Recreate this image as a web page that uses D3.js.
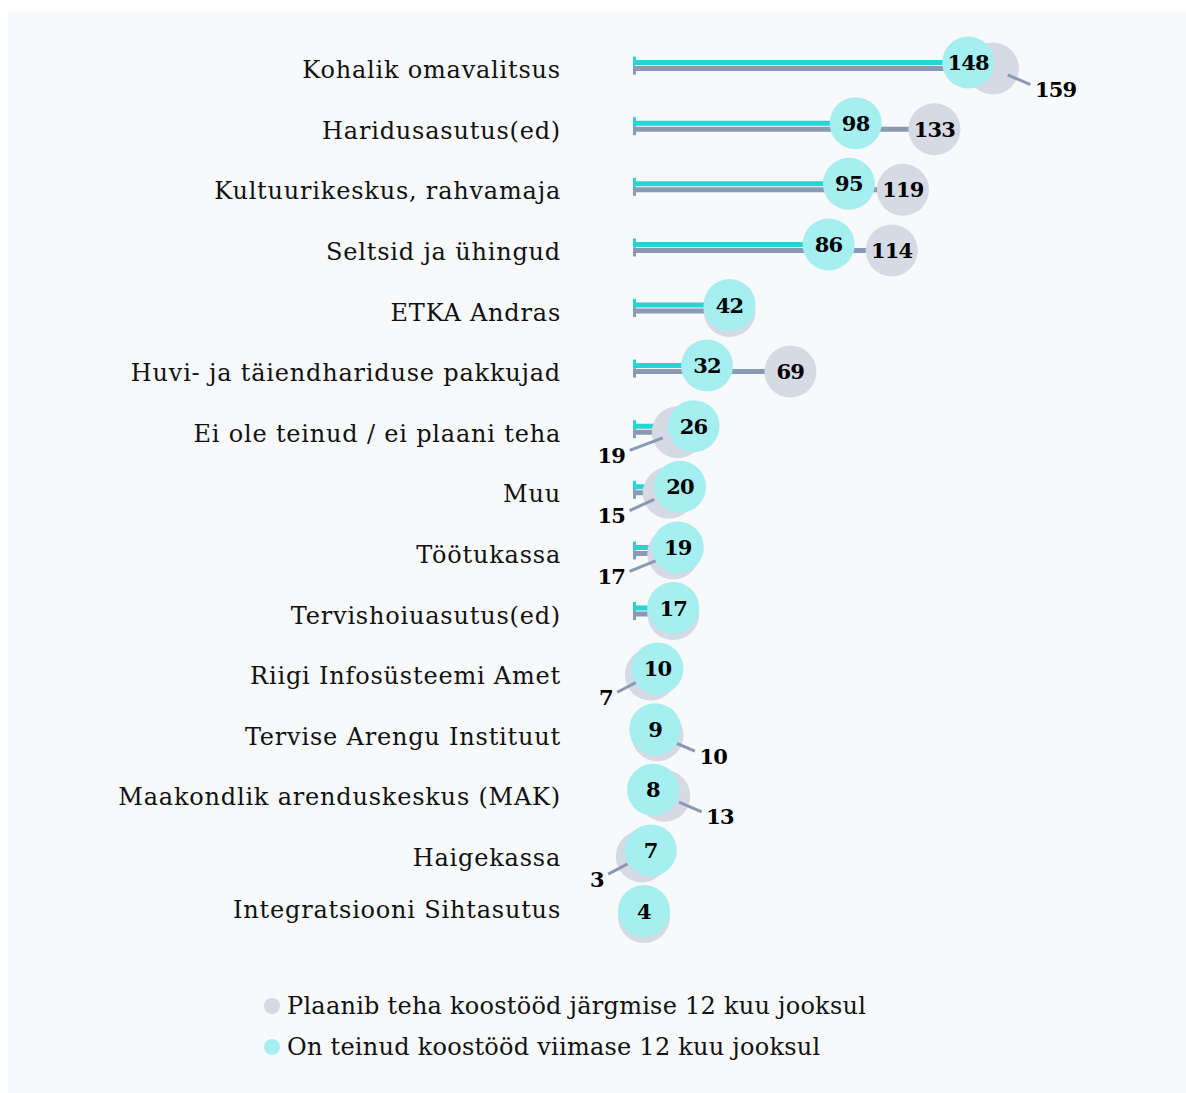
<!DOCTYPE html>
<html>
<head>
<meta charset="utf-8">
<script src="https://cdn.jsdelivr.net/npm/d3@7"></script>
<style>
  html, body { margin: 0; padding: 0; background: #ffffff; }
  svg { display: block; }
  text { font-family: "DejaVu Serif", serif; }
</style>
</head>
<body>
<svg id="chart" width="1186" height="1093"></svg>
<script>
const categories = [
  "Kohalik omavalitsus",
  "Haridusasutus(ed)",
  "Kultuurikeskus, rahvamaja",
  "Seltsid ja ühingud",
  "ETKA Andras",
  "Huvi- ja täiendhariduse pakkujad",
  "Ei ole teinud / ei plaani teha",
  "Muu",
  "Töötukassa",
  "Tervishoiuasutus(ed)",
  "Riigi Infosüsteemi Amet",
  "Tervise Arengu Instituut",
  "Maakondlik arenduskeskus (MAK)",
  "Haigekassa",
  "Integratsiooni Sihtasutus"
];
// On teinud koostööd viimase 12 kuu jooksul
const doneValues = [148, 98, 95, 86, 42, 32, 26, 20, 19, 17, 10, 9, 8, 7, 4];
// Plaanib teha koostööd järgmise 12 kuu jooksul
const planValues = [159, 133, 119, 114, 42, 69, 19, 15, 17, 17, 7, 10, 13, 3, 4];
const seriesNames = [
  "Plaanib teha koostööd järgmise 12 kuu jooksul",
  "On teinud koostööd viimase 12 kuu jooksul"
];

const COL_DONE_BAR = "#27d3d3";
const COL_DONE_DOT = "#a6eff0";
const COL_PLAN_BAR = "#8a9ab3";
const COL_PLAN_DOT = "#d5dae4";

const svg = d3.select("#chart");
svg.append("rect").attr("x", 8).attr("y", 11).attr("width", 1178).attr("height", 1082).attr("fill", "#f7f9fb");

const x = d3.scaleLinear().domain([0, 159]).range([635, 993]);
const y = d3.scalePoint().domain(categories).range([65.6, 914]);
const R = 26;
const OFF = 3;
const plotBottom = 910;

const rows = categories.map((c, i) => ({ cat: c, done: doneValues[i], plan: planValues[i] }));

// category labels
svg.append("g").selectAll("text").data(rows).join("text")
  .attr("x", 561)
  .attr("y", d => Math.min(y(d.cat) + 4.5, plotBottom))
  .attr("text-anchor", "end")
  .attr("dominant-baseline", "central")
  .attr("font-size", 24)
  .attr("letter-spacing", 0.8)
  .attr("fill", "#111")
  .text(d => d.cat);

const g = svg.append("g");
// bars
g.selectAll(".planBar").data(rows).join("line")
  .attr("x1", x(0)).attr("x2", d => x(d.plan))
  .attr("y1", d => y(d.cat) + OFF).attr("y2", d => y(d.cat) + OFF)
  .attr("stroke", COL_PLAN_BAR).attr("stroke-width", 5);
g.selectAll(".doneBar").data(rows).join("line")
  .attr("x1", x(0)).attr("x2", d => x(d.done))
  .attr("y1", d => y(d.cat) - OFF).attr("y2", d => y(d.cat) - OFF)
  .attr("stroke", COL_DONE_BAR).attr("stroke-width", 5);
// caps
g.selectAll(".capP").data(rows).join("rect")
  .attr("x", x(0) - 2).attr("width", 3)
  .attr("y", d => y(d.cat)).attr("height", 9)
  .attr("fill", COL_PLAN_BAR);
g.selectAll(".capD").data(rows).join("rect")
  .attr("x", x(0) - 2).attr("width", 3)
  .attr("y", d => y(d.cat) - 9).attr("height", 9)
  .attr("fill", COL_DONE_BAR);

// plan dots
g.selectAll(".planDot").data(rows).join("circle")
  .attr("cx", d => x(d.plan)).attr("cy", d => y(d.cat) + OFF)
  .attr("r", R).attr("fill", COL_PLAN_DOT);

// plan labels placement
rows.forEach(d => {
  const cx = x(d.plan), cy = y(d.cat) + OFF;
  d.pcx = cx; d.pcy = cy;
  if (d.plan === d.done) { d.pmode = "none"; return; }
  const dist = Math.abs(x(d.plan) - x(d.done));
  if (dist >= 2 * R) { d.pmode = "inside"; return; }
  if (d.plan > d.done) {
    d.pmode = "right";
    d.lx = cx + 42; d.ly = cy + 21;
  } else {
    d.pmode = "left";
    d.lx = Math.min(cx - 38, x(0) - 10); d.ly = cy + 23;
  }
});

const outside = rows.filter(d => d.pmode === "left" || d.pmode === "right");
// leader lines
g.selectAll(".leader").data(outside).join("line")
  .each(function(d) {
    const ax = d.lx, ay = d.ly - 3;
    const vx = ax - d.pcx, vy = ay - d.pcy;
    const L = Math.hypot(vx, vy);
    const ux = vx / L, uy = vy / L;
    d3.select(this)
      .attr("x1", d.pcx + ux * 16).attr("y1", d.pcy + uy * 16)
      .attr("x2", ax - ux * 5).attr("y2", ay - uy * 5);
  })
  .attr("stroke", COL_PLAN_BAR).attr("stroke-width", 3);

// done dots
g.selectAll(".doneDot").data(rows).join("circle")
  .attr("cx", d => x(d.done)).attr("cy", d => y(d.cat) - OFF)
  .attr("r", R).attr("fill", COL_DONE_DOT);

// value labels
const vfont = 21;
g.selectAll(".planLbl").data(rows.filter(d => d.pmode !== "none")).join("text")
  .attr("x", d => d.pmode === "inside" ? d.pcx : d.lx)
  .attr("y", d => d.pmode === "inside" ? d.pcy : d.ly)
  .attr("text-anchor", d => d.pmode === "inside" ? "middle" : (d.pmode === "right" ? "start" : "end"))
  .attr("dominant-baseline", "central")
  .attr("font-size", vfont).attr("font-weight", "bold").attr("letter-spacing", -0.8).attr("fill", "#000")
  .text(d => d.plan);
g.selectAll(".doneLbl").data(rows).join("text")
  .attr("x", d => x(d.done)).attr("y", d => y(d.cat) - OFF)
  .attr("text-anchor", "middle")
  .attr("dominant-baseline", "central")
  .attr("font-size", vfont).attr("font-weight", "bold").attr("letter-spacing", -0.8).attr("fill", "#000")
  .text(d => d.done);

// legend
const legend = svg.append("g");
const legendColors = [COL_PLAN_DOT, COL_DONE_DOT];
const ly = d3.scalePoint().domain(seriesNames).range([1006, 1047]);
legend.selectAll("circle").data(seriesNames).join("circle")
  .attr("cx", 272).attr("cy", d => ly(d)).attr("r", 8)
  .attr("fill", (d, i) => legendColors[i]);
legend.selectAll("text").data(seriesNames).join("text")
  .attr("x", 287).attr("y", d => ly(d))
  .attr("dominant-baseline", "central")
  .attr("font-size", 24).attr("letter-spacing", 0.25).attr("fill", "#111")
  .text(d => d);
</script>
</body>
</html>
